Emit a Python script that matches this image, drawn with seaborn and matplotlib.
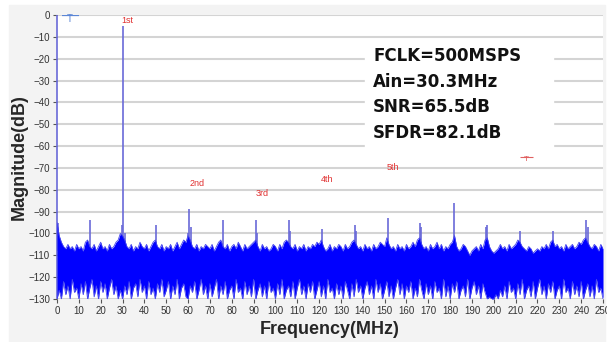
import numpy as np
import pandas as pd
import matplotlib
matplotlib.use("Agg")
import matplotlib.pyplot as plt
from matplotlib.patches import Rectangle
import seaborn as sns

# noise floor, one value per MHz (0..250)
freq_mhz = np.arange(0, 251)

noise_top = [
    -95, -101, -104, -106, -107, -105, -107, -106, -108, -105,
    -107, -106, -108, -104, -103, -106, -107, -105, -108, -106,
    -104, -107, -106, -108, -105, -107, -106, -104, -103, -100,
    -101, -103, -106, -107, -105, -108, -106, -107, -104, -106,
    -107, -105, -108, -106, -104, -103, -106, -107, -105, -108,
    -106, -107, -105, -108, -106, -104, -107, -105, -103, -104,
    -101, -103, -106, -107, -105, -108, -106, -107, -105, -106,
    -107, -105, -108, -106, -104, -103, -106, -107, -105, -108,
    -106, -105, -107, -104, -106, -108, -105, -107, -106, -105,
    -104, -103, -106, -108, -105, -107, -106, -108, -107, -105,
    -106, -108, -105, -107, -104, -103, -104, -106, -107, -105,
    -108, -106, -107, -105, -108, -106, -107, -105, -106, -104,
    -105, -103, -106, -108, -107, -105, -108, -106, -107, -105,
    -106, -108, -105, -107, -106, -104, -103, -105, -107, -106,
    -108, -105, -107, -106, -108, -105, -107, -106, -104, -105,
    -106, -102, -105, -107, -106, -108, -105, -107, -106, -108,
    -105, -107, -106, -104, -106, -103, -102, -105, -107, -106,
    -108, -105, -107, -106, -104, -107, -105, -108, -106, -107,
    -105, -104, -101, -106, -108, -107, -105, -106, -108, -110,
    -108, -107, -106, -108, -105, -107, -103, -102, -106, -108,
    -109, -108, -107, -105, -107, -106, -108, -105, -107, -106,
    -105, -103, -104, -106, -107, -108, -106, -107, -109, -108,
    -107, -108, -106, -107, -105, -107, -104, -103, -106, -105,
    -107, -106, -108, -105, -107, -106, -105, -107, -106, -104,
    -105, -103, -102, -104, -106, -107, -105, -106, -108, -105,
    -107,
]

noise_bottom = [
    -130, -126, -130, -122, -128, -124, -130, -121, -127, -125,
    -130, -123, -128, -122, -130, -125, -121, -129, -124, -130,
    -122, -127, -123, -130, -125, -121, -128, -124, -130, -126,
    -130, -124, -128, -122, -130, -125, -123, -129, -121, -127,
    -124, -130, -122, -128, -125, -130, -123, -127, -121, -129,
    -126, -122, -130, -124, -128, -121, -130, -125, -123, -129,
    -130, -124, -127, -122, -130, -126, -121, -128, -124, -130,
    -123, -129, -125, -121, -130, -124, -128, -122, -130, -126,
    -124, -130, -121, -127, -125, -130, -122, -128, -124, -129,
    -121, -130, -126, -123, -129, -124, -130, -122, -127, -125,
    -130, -123, -128, -121, -130, -126, -124, -129, -122, -130,
    -125, -121, -128, -124, -130, -123, -127, -122, -130, -126,
    -122, -129, -124, -130, -121, -127, -125, -130, -123, -128,
    -124, -130, -122, -126, -130, -123, -129, -121, -127, -124,
    -130, -125, -122, -128, -124, -130, -121, -127, -123, -130,
    -126, -122, -129, -124, -130, -125, -121, -128, -123, -130,
    -124, -127, -122, -130, -125, -129, -121, -126, -130, -123,
    -128, -124, -130, -122, -127, -125, -130, -121, -129, -124,
    -130, -123, -127, -122, -130, -126, -124, -129, -121, -130,
    -125, -122, -128, -124, -130, -123, -127, -130, -129, -130,
    -130, -128, -130, -126, -129, -124, -130, -122, -127, -125,
    -130, -123, -128, -121, -130, -126, -124, -129, -122, -130,
    -125, -121, -128, -124, -130, -123, -127, -122, -130, -126,
    -124, -130, -121, -127, -125, -130, -122, -128, -124, -129,
    -122, -130, -126, -123, -129, -124, -130, -121, -127, -125,
    -130,
]

# spurs / tones (MHz, dB)
spur_freq = [0, 0.6, 15.2, 29.6, 30.3, 31.0, 45.5, 60.0, 60.6, 61.2,
             75.8, 90.9, 91.5, 106.1, 106.7, 121.2, 136.4, 137.0, 151.5,
             166.1, 166.7, 181.8, 196.4, 197.0, 212.1, 227.3, 242.4, 243.2]
spur_db = [0, -95, -94, -96, -5, -100, -96, -100, -89, -97,
           -94, -94, -100, -94, -99, -98, -96, -99, -93,
           -95, -97, -86, -97, -96, -99, -99, -94, -97]

# harmonic labels
harm_text = ["1st", "2nd", "3rd", "4th", "5th"]
harm_x = [32, 64, 94, 123.5, 154]
harm_y = [-2.3, -77, -81.5, -75.5, -70]

info_lines = ["FCLK=500MSPS", "Ain=30.3MHz", "SNR=65.5dB", "SFDR=82.1dB"]
info_y = [-18.8, -30.7, -42.1, -54.0]

df = pd.DataFrame({"freq": freq_mhz, "top": noise_top, "bottom": noise_bottom})

sns.set_style("white")
plt.rcParams["font.family"] = ["Liberation Sans", "DejaVu Sans"]

fig = plt.figure(figsize=(6.07, 3.42), dpi=100, facecolor="white")
fig.patches.append(Rectangle((9 / 607, 0), 596 / 607, 337 / 342,
                             transform=fig.transFigure, color="#f3f3f3", zorder=-10))
ax = fig.add_axes([57 / 607, 1 - 299 / 342, 546 / 607, 284 / 342])
ax.set_facecolor("white")

# noise floor
ax.fill_between(df["freq"], df["bottom"], df["top"], color="#0000ff", lw=0, zorder=2)
sns.lineplot(data=df, x="freq", y="top", color="#4646ee", lw=0.6, ax=ax, zorder=2)
sns.lineplot(data=df, x="freq", y="bottom", color="#4646ee", lw=0.6, ax=ax, zorder=2)

# spurs
for f, d in zip(spur_freq, spur_db):
    lo = -130 if f == 0 else -108
    ax.vlines(f, lo, d, color="#6a6ad8", lw=1.2, zorder=1.9, clip_on=False)

# markers
ax.hlines(0, 2.3, 10, color="#5b86d6", lw=1.6, zorder=4)
ax.text(6, 0.3, "T", color="#5b86d6", fontsize=7, ha="center", va="top", zorder=4)
ax.hlines(-65, 212, 218, color="#e06060", lw=0.8, zorder=4)
ax.text(215, -64.6, "T", color="#e06060", fontsize=6, ha="center", va="top", zorder=4)

for t, x, y in zip(harm_text, harm_x, harm_y):
    ax.text(x, y, t, color="#e03030", fontsize=6.5, ha="center", va="center", zorder=4)

# info box
ax.add_patch(Rectangle((141, -62.5), 86, 49, color="white", zorder=1.5))
for t, y in zip(info_lines, info_y):
    ax.text(144.7, y, t, fontsize=12, fontweight="bold", family="DejaVu Sans",
            color="#111111", ha="left", va="center", zorder=5)

ax.set_xlim(0, 250)
ax.set_ylim(-130, 0)
ax.set_xticks(range(0, 251, 10))
ax.set_yticks(range(-130, 1, 10))
ax.set_axisbelow(True)
ax.yaxis.grid(True, color="#d4d4d4", lw=1.5)
ax.xaxis.grid(False)
for s in ax.spines.values():
    s.set_visible(False)
ax.tick_params(axis="both", length=3, width=0.8, color="#555555",
               labelsize=7, labelcolor="#333333", pad=2, left=True, bottom=True)

ax.set_xlabel("Frequency(MHz)", fontsize=13, fontweight="bold", labelpad=4)
ax.set_ylabel("Magnitude(dB)", fontsize=13, fontweight="bold", labelpad=0)

fig.savefig("out.png", dpi=100, facecolor=fig.get_facecolor())
